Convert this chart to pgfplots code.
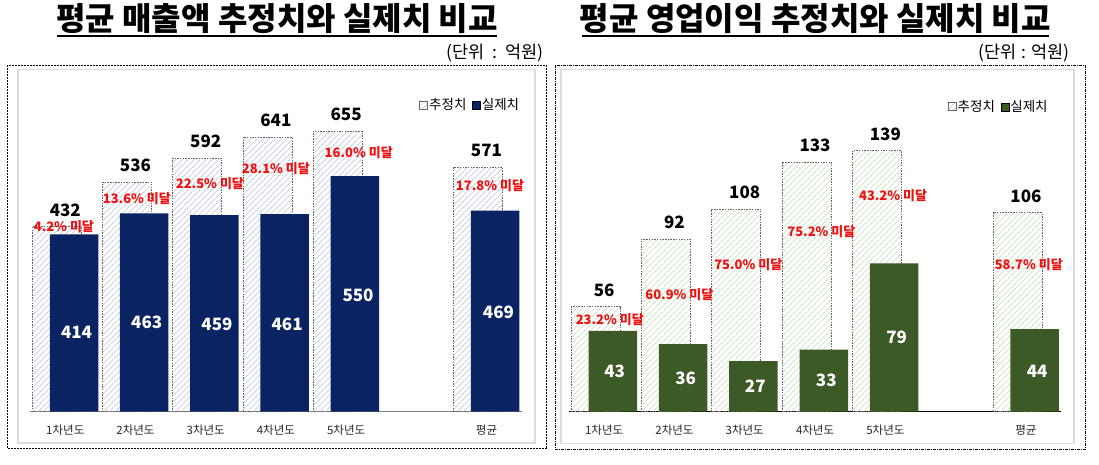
\documentclass[border=0pt]{standalone}
\usepackage{fontspec}
\setmainfont{Noto Sans CJK KR}
\usepackage{pgfplots}
\usepackage{pgfplotstable}
\pgfplotsset{compat=1.18}
\usetikzlibrary{patterns.meta}
\definecolor{navy}{HTML}{0A2363}
\definecolor{dgreen}{HTML}{3B5A26}
\definecolor{hblue}{HTML}{C6D1E2}
\definecolor{hgreen}{HTML}{CFE3C6}
\definecolor{lred}{HTML}{F01010}
\definecolor{framegray}{HTML}{DCDCDC}

\pgfplotstableread{
x est act
0 432 414
1 536 463
2 592 459
3 641 461
4 655 550
6 571 469
}\salesdata
\pgfplotstableread{
x est act
0 56 43
1 92 36
2 108 27
3 133 33
4 139 79
6 106 44
}\profitdata

\newcommand{\fs}[1]{\fontsize{#1}{#1}\selectfont}

\pgfplotsset{
  legsq/.style={legend image code/.code={\draw[##1,/tikz/.cd,bar shift=0pt,solid] (0pt,-4pt) rectangle (8pt,4pt);}},
  mybars/.style={
    scale only axis,
    anchor=south west,
    /pgf/number format/assume math mode=true,
    xmin=-0.5, xmax=6.5, ymin=0,
    axis y line=none,
    axis x line*=bottom,
    xtick={0,1,2,3,4,6},
    xticklabels={1차년도,2차년도,3차년도,4차년도,5차년도,평균},
    major tick length=0pt,
    xticklabel style={font=\fs{11.5}, text=black!85, anchor=base, yshift=-22.5pt},
    clip=false,
    legend columns=2,
    legend cell align=left,
    legend style={draw=none, fill=none, font=\fs{13.5}, anchor=west, inner sep=0pt,
      nodes={inner sep=1.5pt},
      /tikz/every even column/.append style={column sep=4pt}},
  },
}

\begin{document}
\begin{tikzpicture}
\path[use as bounding box] (0pt,0pt) rectangle (1099pt,-464pt);
% titles
\node[font=\fs{32}\bfseries] at (277pt,-19pt) {평균 매출액 추정치와 실제치 비교};
\draw[line width=2pt] (57pt,-36pt) -- (497pt,-36pt);
\node[font=\fs{32}\bfseries] at (815.3pt,-19pt) {평균 영업이익 추정치와 실제치 비교};
\draw[line width=2pt] (581.6pt,-36pt) -- (1049pt,-36pt);
\node[font=\fs{17.5}, anchor=east] at (547pt,-53pt) {(단위\;\,:\;\,억원)};
\node[font=\fs{17.5}, anchor=east] at (1073pt,-53pt) {(단위\;:\;억원)};
% frames
\draw[dash pattern=on 2pt off 1pt, line width=0.8pt] (7pt,-65pt) rectangle (546.7pt,-448.5pt);
\draw[dash pattern=on 3pt off 1pt on 1pt off 1pt, line width=0.8pt] (555pt,-65pt) rectangle (1085.7pt,-449pt);
\draw[framegray, line width=1.5pt] (18pt,-69.5pt) rectangle (535pt,-443pt);
\draw[framegray, line width=1.5pt] (561pt,-69.5pt) rectangle (1074pt,-443.5pt);

% left axis
\begin{axis}[mybars, at={(30.2pt,-411.7pt)}, x=70.2pt, y=0.4285pt, ymax=800,
  x axis line style={-, draw=black!50, line width=1pt},
  legend style={at={(0.791,0.895)}}]
\addplot[ybar, bar width=49pt, bar shift=-8.5pt, draw=black!60, dash pattern=on 1.5pt off 1.2pt, line width=0.6pt,
  pattern={Lines[angle=45,distance=4pt,line width=1.2pt]}, pattern color=hblue,
  nodes near coords, nodes near coords style={font=\fs{17}\bfseries, text=black, anchor=center, yshift=16.5pt},
  legsq] table[x=x,y=est]{\salesdata};
\addlegendentry{추정치}
\addplot[ybar, bar width=48.5pt, bar shift=8.7pt, fill=navy, draw=none, legsq] table[x=x,y=act]{\salesdata};
\addlegendentry{실제치}
\begin{scope}[every node/.style={font=\fs{17}\bfseries, text=white}]
\node at (axis cs:0.16,185) {414};
\node at (axis cs:1.16,208) {463};
\node at (axis cs:2.16,205) {459};
\node at (axis cs:3.16,205) {461};
\node at (axis cs:4.17,272) {550};
\node at (axis cs:6.17,233) {469};
\end{scope}
\begin{scope}[every node/.style={font=\fs{13}\bfseries, text=lred}]
\node at (axis cs:-0.02,431.7) {4.2\% 미달};
\node at (axis cs:1.02,498) {13.6\% 미달};
\node at (axis cs:2.06,533) {22.5\% 미달};
\node at (axis cs:3.0,568) {28.1\% 미달};
\node at (axis cs:4.18,604) {16.0\% 미달};
\node at (axis cs:6.05,527) {17.8\% 미달};
\end{scope}
\end{axis}

% right axis
\begin{axis}[mybars, at={(569pt,-411.7pt)}, x=70.3pt, y=1.878pt, ymax=180,
  x axis line style={-, draw=black, line width=1.3pt},
  legend style={at={(0.769,0.902)}}]
\addplot[ybar, bar width=49pt, bar shift=-8.5pt, draw=black!60, dash pattern=on 1.5pt off 1.2pt, line width=0.6pt,
  pattern={Lines[angle=45,distance=4pt,line width=1.2pt]}, pattern color=hgreen,
  nodes near coords, nodes near coords style={font=\fs{17}\bfseries, text=black, anchor=center, yshift=16.5pt},
  legsq] table[x=x,y=est]{\profitdata};
\addlegendentry{추정치}
\addplot[ybar, bar width=48.5pt, bar shift=8.7pt, fill=dgreen, draw=none, legsq] table[x=x,y=act]{\profitdata};
\addlegendentry{실제치}
\begin{scope}[every node/.style={font=\fs{17}\bfseries, text=white}]
\node at (axis cs:0.15,21.3) {43};
\node at (axis cs:1.16,17.8) {36};
\node at (axis cs:2.15,13.7) {27};
\node at (axis cs:3.16,16.5) {33};
\node at (axis cs:4.16,39.6) {79};
\node at (axis cs:6.16,21.3) {44};
\end{scope}
\begin{scope}[every node/.style={font=\fs{13}\bfseries, text=lred}]
\node at (axis cs:0.08,49.2) {23.2\% 미달};
\node at (axis cs:1.07,62.5) {60.9\% 미달};
\node at (axis cs:2.05,78.1) {75.0\% 미달};
\node at (axis cs:3.09,95.8) {75.2\% 미달};
\node at (axis cs:4.11,115) {43.2\% 미달};
\node at (axis cs:6.04,78.5) {58.7\% 미달};
\end{scope}
\end{axis}
\end{tikzpicture}
\end{document}
